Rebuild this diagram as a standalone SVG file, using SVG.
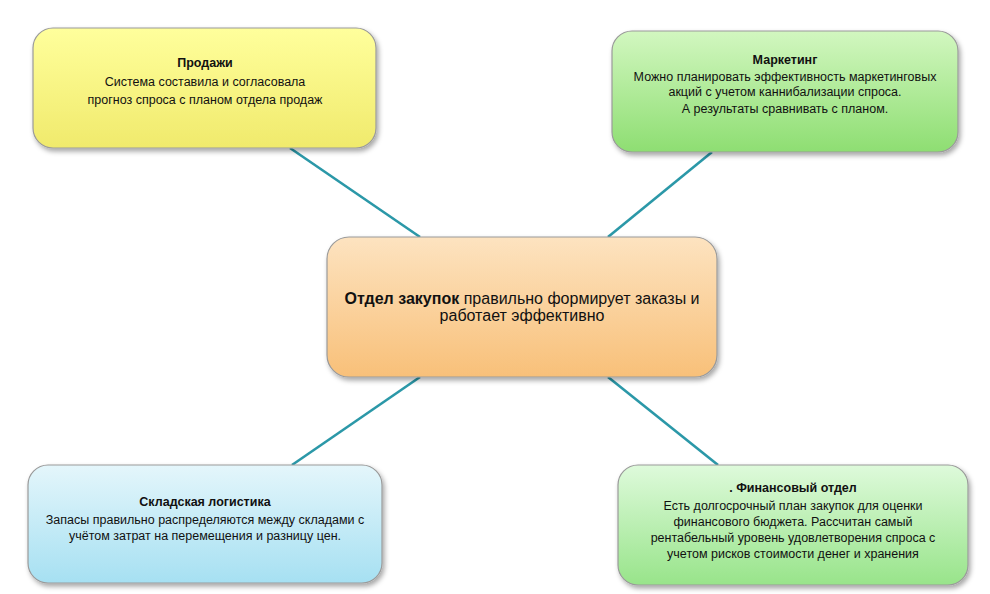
<svg xmlns="http://www.w3.org/2000/svg" width="990" height="594" viewBox="0 0 990 594">
<defs>
<linearGradient id="gY" x1="0" y1="0" x2="0" y2="1"><stop offset="0" stop-color="#ffff9c"/><stop offset="1" stop-color="#f0ea6c"/></linearGradient>
<linearGradient id="gG" x1="0" y1="0" x2="0" y2="1"><stop offset="0" stop-color="#d2f7c0"/><stop offset="1" stop-color="#8ede72"/></linearGradient>
<linearGradient id="gO" x1="0" y1="0" x2="0" y2="1"><stop offset="0" stop-color="#fde3c0"/><stop offset="1" stop-color="#f8c079"/></linearGradient>
<linearGradient id="gB" x1="0" y1="0" x2="0" y2="1"><stop offset="0" stop-color="#e4f6fb"/><stop offset="1" stop-color="#a6e0f2"/></linearGradient>
<linearGradient id="gF" x1="0" y1="0" x2="0" y2="1"><stop offset="0" stop-color="#defadb"/><stop offset="1" stop-color="#98e48a"/></linearGradient>
<filter id="sh" x="-10%" y="-10%" width="125%" height="130%"><feDropShadow dx="2" dy="3" stdDeviation="2.5" flood-color="#000" flood-opacity="0.35"/></filter>
</defs>
<style>
.box{stroke:#9a9a9a;stroke-width:1.2;filter:url(#sh)}
.t{font-family:"Liberation Sans",Arial,sans-serif;font-size:12.5px;fill:#111;text-anchor:middle}
.b{font-weight:bold}
.c{font-family:"Liberation Sans",Arial,sans-serif;font-size:16px;fill:#111;text-anchor:middle}
.ln{stroke:#2b98a8;stroke-width:2.6;fill:none}
</style>
<rect width="990" height="594" fill="#fff"/>
<g id="connectors">
<line class="ln" x1="290" y1="148" x2="420" y2="237"/>
<line class="ln" x1="712" y1="152" x2="608" y2="237"/>
<line class="ln" x1="420" y1="377" x2="292" y2="465"/>
<line class="ln" x1="608" y1="377" x2="718" y2="465"/>
</g>
<g id="sales">
<rect class="box" x="33" y="28" width="343" height="120" rx="20" fill="url(#gY)"/>
<text class="t b" x="205" y="67">Продажи</text>
<text class="t" x="205" y="86">Система  составила  и согласовала</text>
<text class="t" x="205" y="104">прогноз  спроса  с планом  отдела  продаж</text>
</g>
<g id="marketing">
<rect class="box" x="612" y="31" width="346" height="121" rx="20" fill="url(#gG)"/>
<text class="t b" x="785" y="64">Маркетинг</text>
<text class="t" x="785" y="81">Можно планировать  эффективность  маркетинговых</text>
<text class="t" x="785" y="96">акций с учетом каннибализации  спроса.</text>
<text class="t" x="785" y="113">А результаты  сравнивать  с планом.</text>
</g>
<g id="center">
<rect class="box" x="327" y="237" width="390" height="140" rx="22" fill="url(#gO)"/>
<text class="c" x="522" y="304"><tspan font-weight="bold">Отдел закупок</tspan> правильно  формирует  заказы и</text>
<text class="c" x="522" y="321">работает эффективно</text>
</g>
<g id="logistics">
<rect class="box" x="28" y="465" width="354" height="118" rx="20" fill="url(#gB)"/>
<text class="t b" x="205" y="506">Складская логистика</text>
<text class="t" x="205" y="524">Запасы правильно  распределяются  между складами с</text>
<text class="t" x="205" y="540">учётом затрат  на перемещения  и разницу  цен.</text>
</g>
<g id="finance">
<rect class="box" x="618" y="465" width="350" height="120" rx="20" fill="url(#gF)"/>
<text class="t b" x="793" y="492">. Финансовый отдел</text>
<text class="t" x="793" y="510">Есть долгосрочный  план  закупок для оценки</text>
<text class="t" x="793" y="526">финансового  бюджета. Рассчитан самый</text>
<text class="t" x="793" y="542">рентабельный  уровень удовлетворения  спроса с</text>
<text class="t" x="793" y="558">учетом рисков стоимости  денег и хранения</text>
</g>
</svg>
